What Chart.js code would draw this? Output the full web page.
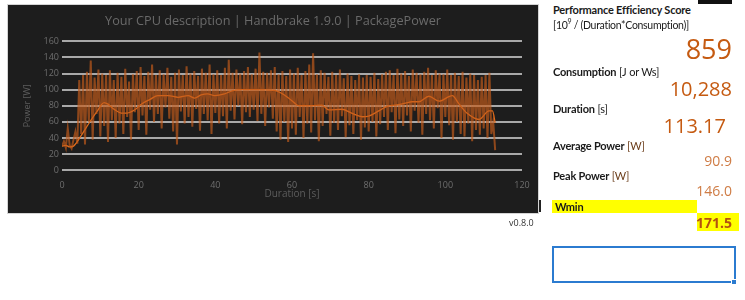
<!DOCTYPE html>
<html>
<head>
<meta charset="utf-8">
<script src="https://cdn.jsdelivr.net/npm/chart.js@4.4.1/dist/chart.umd.min.js"></script>
<style>
  html, body { margin: 0; padding: 0; background: #ffffff; }
  body { width: 745px; height: 300px; position: relative; overflow: hidden; font-family: Lato, sans-serif; }
  #frame { position: absolute; left: 7px; top: 4px; width: 530px; height: 208px; border: 1px solid #d4d4d4; background: #1d1d1d; }
  #chartBox { position: absolute; left: 0; top: 0; width: 530px; height: 208px; }
  .lbl { position: absolute; left: 553px; font-size: 11px; color: #1a1a1a; white-space: nowrap; letter-spacing: -0.2px; }
  .lbl b { font-weight: bold; }
  .val { position: absolute; right: 13px; color: #c55a11; white-space: nowrap; font-family: "Open Sans", sans-serif; }
  .unit { color: #6b3d1a; }
</style>
</head>
<body>
<div id="frame"><div id="chartBox"><canvas id="powerChart"></canvas></div></div>

<div style="position:absolute;left:698px;top:0;width:34px;height:4px;background:#111;"></div>
<div style="position:absolute;left:539px;top:200px;width:2px;height:12px;background:#222;"></div>

<div class="lbl" style="top:3px;"><b>Performance Efficiency Score</b></div>
<div class="lbl" style="top:17px;font-size:10.5px;letter-spacing:-0.3px;">[10<sup style="font-size:7px;">9</sup> / (Duration*Consumption)]</div>
<div class="val" style="top:30px;font-size:27px;">859</div>
<div class="lbl" style="top:65px;"><b>Consumption</b> [J or Ws]</div>
<div class="val" style="top:75px;font-size:20px;">10,288</div>
<div class="lbl" style="top:102px;"><b>Duration</b> [s]</div>
<div class="val" style="top:112px;font-size:20px;right:19px;">113.17</div>
<div class="lbl" style="top:139px;"><b>Average Power</b> <span class="unit">[W]</span></div>
<div class="val" style="top:151px;font-size:14px;color:#cf7c45;">90.9</div>
<div class="lbl" style="top:169px;"><b>Peak Power</b> <span class="unit">[W]</span></div>
<div class="val" style="top:181px;font-size:14px;color:#cf7c45;">146.0</div>
<div style="position:absolute;left:552px;top:200px;width:145px;height:13px;background:#ffff00;"></div>
<div class="lbl" style="top:200px;left:555px;"><b>Wmin</b></div>
<div style="position:absolute;left:697px;top:213px;width:42px;height:18px;background:#ffff00;"></div>
<div class="val" style="top:213px;font-size:14px;font-weight:bold;color:#b4520f;">171.5</div>
<div style="position:absolute;left:509px;top:216px;font-size:9px;color:#333;font-family:'Open Sans',sans-serif;">v0.8.0</div>
<div style="position:absolute;left:552px;top:246px;width:180px;height:33px;border:2px solid #2b7bd0;"></div>
<div style="position:absolute;left:731px;top:279px;width:4px;height:4px;background:#2b7bd0;border:1px solid #fff;"></div>

<script>
// PackagePower samples, one every 0.5 s [W]
const sampleStep = 0.5;
const powerSamples = [
  30, 36, 28, 52, 31, 27, 38, 48, 33, 112,
  45, 118, 32, 122, 60, 136, 38, 115, 70, 125,
  42, 120, 55, 118, 35, 124, 62, 112, 40, 121,
  58, 116, 45, 126, 66, 110, 38, 119, 72, 123,
  50, 128, 68, 117, 44, 122, 75, 131, 60, 118,
  70, 124, 52, 119, 78, 127, 64, 116, 48, 121,
  32, 125, 73, 118, 58, 129, 66, 120, 54, 123,
  76, 117, 49, 126, 70, 121, 62, 131, 45, 119,
  71, 124, 58, 118, 67, 127, 52, 137, 74, 121,
  63, 125, 80, 120, 57, 123, 72, 128, 66, 119,
  75, 126, 61, 146, 70, 122, 55, 121, 78, 124,
  64, 128, 48, 119, 38, 123, 60, 117, 35, 125,
  52, 120, 44, 127, 66, 118, 40, 123, 58, 131,
  47, 145, 62, 119, 36, 124, 55, 121, 70, 116,
  43, 122, 59, 118, 50, 125, 67, 114, 41, 120,
  56, 117, 45, 112, 62, 119, 38, 115, 53, 118,
  48, 116, 60, 121, 42, 113, 57, 119, 66, 122,
  50, 124, 72, 118, 46, 126, 63, 120, 55, 123,
  68, 117, 48, 125, 74, 121, 59, 119, 44, 122,
  70, 127, 62, 118, 52, 124, 77, 120, 40, 119,
  66, 125, 56, 118, 38, 121, 60, 117, 45, 122,
  42, 115, 58, 120, 36, 118, 50, 112, 44, 116,
  52, 118, 40, 121, 45, 60, 25
];

// smoothed (moving average) curve
const avgTime = [0, 1, 2, 3, 5, 7, 9, 11, 12, 13.5, 15.5, 17, 19, 20.7, 23, 25, 27.7, 30.3, 32.9, 34.6,
  36.3, 38, 39.8, 42.4, 44.6, 46.7, 50.2, 55.4, 57.2, 59, 60.7, 61.7, 65.2, 67.8, 69.6, 73, 75.7, 78.3,
  80, 82.6, 85.2, 87, 89.6, 91.3, 93.1, 95.7, 98.4, 101.8, 103.6, 105.7, 108.8, 111.4, 112.3, 113];
const avgPower = [30, 31, 29, 30, 43, 58, 72, 84, 82, 76, 71, 71, 75, 82, 88, 92.6, 92.6, 90.5, 92.6, 89.6,
  93.4, 94.7, 92.6, 94.7, 98.9, 100, 100, 99, 95.6, 90, 83.3, 80, 80, 80.8, 74.8, 75.7, 70.6, 66.4,
  67.2, 73.6, 80, 80.8, 83.3, 85, 85, 91.8, 85.8, 92.6, 82, 70.6, 63, 73.6, 73.6, 58.8];

const yTicks = [0, 20, 40, 60, 80, 100, 120, 140, 160];
const xTicks = [0, 20, 40, 60, 80, 100, 120];

const chartTitle = 'Your CPU description | Handbrake 1.9.0 | PackagePower';
const fontFamily = '"Open Sans", sans-serif';
const axisColor = '#6e6e6e';

const rawPoints = powerSamples.map((v, i) => ({ x: i * sampleStep, y: v }));
const avgPoints = avgTime.map((t, i) => ({ x: t, y: avgPower[i] }));

const ctx = document.getElementById('powerChart').getContext('2d');
new Chart(ctx, {
  type: 'line',
  data: {
    datasets: [{
      label: 'PackagePower',
      data: rawPoints,
      borderColor: 'rgba(196, 92, 26, 0.68)',
      borderWidth: 2,
      pointRadius: 0,
      tension: 0
    }, {
      label: 'Average',
      data: avgPoints,
      borderColor: '#e06c1c',
      borderWidth: 1.3,
      pointRadius: 0,
      cubicInterpolationMode: 'monotone'
    }]
  },
  options: {
    responsive: true,
    maintainAspectRatio: false,
    animation: false,
    layout: { padding: 0 },
    plugins: {
      legend: { display: false },
      tooltip: { enabled: false },
      title: {
        display: true,
        text: chartTitle,
        color: '#6a6a6a',
        font: { family: fontFamily, size: 12.7, weight: 'normal' },
        padding: { top: 9, bottom: 12 }
      }
    },
    scales: {
      x: {
        type: 'linear',
        min: 0,
        max: 120,
        afterBuildTicks: (scale) => { scale.ticks = xTicks.map(v => ({ value: v })); },
        afterFit: (scale) => { scale.height = 42.7; },
        ticks: { color: axisColor, font: { family: fontFamily, size: 9 }, padding: 2, maxRotation: 0 },
        grid: { display: false },
        border: { display: false },
        title: {
          display: true, text: 'Duration [s]', color: '#5c5c5c',
          font: { family: fontFamily, size: 10 }, padding: { top: 0, bottom: 13 }
        }
      },
      y: {
        min: 0,
        max: 160,
        afterBuildTicks: (scale) => { scale.ticks = yTicks.map(v => ({ value: v })); },
        afterFit: (scale) => { scale.width = 54; },
        ticks: { color: axisColor, font: { family: fontFamily, size: 9 }, padding: 3 },
        grid: { color: '#a9a9a9', lineWidth: 2, drawTicks: false },
        border: { display: false },
        title: {
          display: true, text: 'Power [W]', color: '#5c5c5c',
          font: { family: fontFamily, size: 9 }, padding: { top: 14, bottom: 0 }
        }
      },
      // empty right-hand margin so the plot ends at 120 s like the original
      yRight: {
        position: 'right',
        display: true,
        afterFit: (scale) => { scale.width = 16; },
        ticks: { display: false },
        grid: { display: false },
        border: { display: false }
      }
    }
  }
});
</script>
</body>
</html>
